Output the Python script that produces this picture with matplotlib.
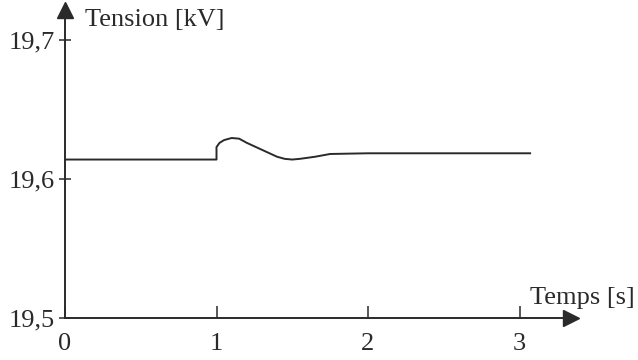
import matplotlib
matplotlib.use("Agg")
import matplotlib.pyplot as plt

# voltage response after the switching event at t = 1 s
time_s = [0.0, 1.0, 1.0, 1.02, 1.05, 1.1, 1.15, 1.2, 1.3, 1.4, 1.45, 1.5, 1.55, 1.65, 1.75, 2.0, 3.07]
voltage_kv = [19.614, 19.614, 19.623, 19.626, 19.628, 19.6295, 19.629, 19.626, 19.621,
              19.616, 19.6145, 19.614, 19.6145, 19.616, 19.618, 19.6185, 19.6185]

x_ticks = [0, 1, 2, 3]
y_ticks = [19.5, 19.6, 19.7]
y_ticklabels = ["19,5", "19,6", "19,7"]

plt.rcParams["font.family"] = ["Liberation Serif", "DejaVu Serif"]
ink = "#2a2a2a"
fs = 19

fig = plt.figure(figsize=(6.38, 3.6), dpi=100)
W, H = 638, 360
x0, y0 = 65, 318
ax = fig.add_axes([x0 / W, (H - y0) / H, (571 - x0) / W, (y0 - 10) / H])

ax.plot(time_s, voltage_kv, color=ink, lw=1.4, solid_joinstyle="round")

ax.set_xlim(0, (571 - x0) / 151.5)
ax.set_ylim(19.5, 19.5 + (y0 - 10) / 1390)

for side in ("top", "right"):
    ax.spines[side].set_visible(False)
for side in ("left", "bottom"):
    ax.spines[side].set_color(ink)
    ax.spines[side].set_linewidth(1.4)

ax.set_xticks(x_ticks)
ax.set_xticklabels([str(t) for t in x_ticks])
ax.set_yticks(y_ticks)
ax.set_yticklabels(y_ticklabels)
ax.tick_params(axis="x", direction="in", length=9, width=1.1, color=ink,
               labelsize=fs, pad=11, labelcolor=ink)
ax.tick_params(axis="y", direction="inout", length=9, width=1.1, color=ink,
               labelsize=fs, pad=3, labelcolor=ink)

# arrow heads at the end of both axes
ax.plot(1, 0, ">", color=ink, ms=11, transform=ax.transAxes, clip_on=False)
ax.plot(0, 1, "^", color=ink, ms=11, transform=ax.transAxes, clip_on=False)

fig.text(85 / W, 1 - 20 / H, "Tension [kV]", fontsize=fs, color=ink, va="center", ha="left")
fig.text(530 / W, 1 - 298 / H, "Temps [s]", fontsize=fs, color=ink, va="center", ha="left")

fig.savefig("out.png", dpi=100)
